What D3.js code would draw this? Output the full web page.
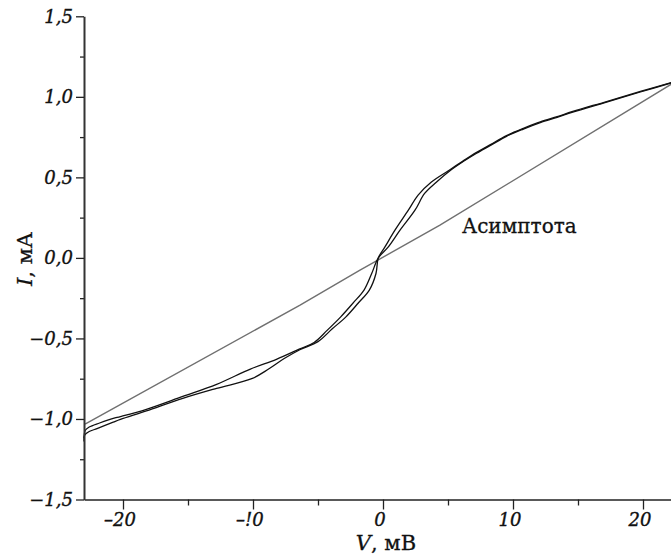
<!DOCTYPE html>
<html>
<head>
<meta charset="utf-8">
<script src="https://d3js.org/d3.v7.min.js"></script>
<style>
  body { margin: 0; background: #fff; }
  text { font-family: "DejaVu Serif", serif; fill: #111; }
</style>
</head>
<body>
<svg width="671" height="556"></svg>
<script>
// current-voltage curve, two sweep branches, V in mV, I in mA
var branchUp = [
  [-23.0, -1.12], [-22.9, -1.07], [-22.6, -1.05], [-21.8, -1.025], [-20.75, -0.996],
  [-20.2, -0.985], [-18.2, -0.94], [-15.4, -0.86], [-12.8, -0.785], [-10.2, -0.69],
  [-8.2, -0.63], [-6.4, -0.565], [-5.3, -0.525], [-4.3, -0.45], [-3.25, -0.366],
  [-2.3, -0.28], [-1.46, -0.2], [-0.87, -0.097], [-0.36, 0.0], [0.41, 0.068],
  [1.31, 0.172], [2.46, 0.296], [3.2, 0.4], [4.1, 0.47], [5.2, 0.544],
  [6.2, 0.6], [7.2, 0.65], [8.3, 0.7], [9.5, 0.755], [10.8, 0.8],
  [12.1, 0.84], [13.4, 0.873], [14.6, 0.905], [17.2, 0.967], [19.8, 1.03], [22.2, 1.087]
];
var branchDown = [
  [-23.0, -1.14], [-22.95, -1.1], [-22.6, -1.078], [-22.0, -1.06], [-20.75, -1.02],
  [-20.2, -1.003], [-18.2, -0.95], [-15.4, -0.872], [-12.8, -0.81], [-10.1, -0.75],
  [-8.8, -0.69], [-7.6, -0.625], [-6.4, -0.57], [-5.0, -0.52],
  [-3.9, -0.44], [-2.85, -0.366], [-1.9, -0.28], [-1.05, -0.2], [-0.54, -0.097],
  [-0.36, 0.0], [0.15, 0.068], [0.92, 0.172], [1.95, 0.296], [2.7, 0.39],
  [3.7, 0.47], [5.0, 0.54], [6.2, 0.604], [7.2, 0.655], [8.3, 0.705], [9.5, 0.759],
  [10.8, 0.804], [12.1, 0.844], [13.4, 0.877], [14.6, 0.909], [17.2, 0.971], [19.8, 1.034], [22.2, 1.089]
];
var asymptote = [[-22.92, -1.032], [-6.38, -0.293], [-1.77, -0.076], [4.38, 0.203], [22.2, 1.08]];

var xTicks = [-20, -10, 0, 10, 20];
var xTickLabels = ["\u201320", "\u2013!0", "0", "10", "20"];
var xMinor = [-15, -5, 5, 15];
var yTicks = [-1.5, -1.0, -0.5, 0.0, 0.5, 1.0, 1.5];
var yTickLabels = ["\u22121,5", "\u22121,0", "\u22120,5", "0,0", "0,5", "1,0", "1,5"];
var yMinor = [-1.25, -0.75, -0.25, 0.25, 0.75, 1.25];

var svg = d3.select("svg");
var x = d3.scaleLinear().domain([-23, 22.2]).range([84, 671.6]);
var y = d3.scaleLinear().domain([-1.5, 1.5]).range([499.5, 16.3]);

var line = d3.line().x(d => x(d[0])).y(d => y(d[1])).curve(d3.curveCatmullRom.alpha(0.5));

svg.append("path").datum(asymptote)
  .attr("d", d3.line().x(d => x(d[0])).y(d => y(d[1]))).attr("fill", "none")
  .attr("stroke", "#707070").attr("stroke-width", 1.4);

[branchUp, branchDown].forEach(function(b) {
  svg.append("path").datum(b)
    .attr("d", line).attr("fill", "none")
    .attr("stroke", "#111").attr("stroke-width", 1.3)
    .attr("stroke-linejoin", "round");
});

// minor ticks first, then major ticks with labels
svg.append("g").attr("transform", "translate(0," + y(-1.5) + ")")
  .call(d3.axisBottom(x).tickValues(xMinor).tickSize(6).tickFormat(""))
  .call(g => g.select(".domain").remove());
var gx = svg.append("g").attr("transform", "translate(0," + y(-1.5) + ")")
  .call(d3.axisBottom(x).tickValues(xTicks).tickSize(10).tickSizeOuter(0)
    .tickFormat((d, i) => xTickLabels[i]));
gx.select(".domain").attr("stroke", "#222").attr("stroke-width", 1.5);

svg.append("g").attr("transform", "translate(" + x(-23) + ",0)")
  .call(d3.axisLeft(y).tickValues(yMinor).tickSize(4).tickFormat(""))
  .call(g => g.select(".domain").remove());
var gy = svg.append("g").attr("transform", "translate(" + x(-23) + ",0)")
  .call(d3.axisLeft(y).tickValues(yTicks).tickSize(8).tickSizeOuter(0)
    .tickFormat((d, i) => yTickLabels[i]));
gy.select(".domain").attr("stroke", "#333").attr("stroke-width", 2);

svg.selectAll(".tick line").attr("stroke", "#222").attr("stroke-width", 1.3);
svg.selectAll(".tick text")
  .style("font-family", "'DejaVu Serif', serif")
  .style("font-style", "italic")
  .style("font-size", "18px")
  .attr("fill", "#111").attr("stroke", "#111").attr("stroke-width", 0.35);
gx.selectAll(".tick text").attr("y", 14).attr("dx", "-0.2em");
gy.selectAll(".tick text").attr("x", -11);

// axis titles
var xt = svg.append("text").attr("x", 386).attr("y", 550)
  .attr("text-anchor", "middle").style("font-size", "21px")
  .attr("stroke", "#111").attr("stroke-width", 0.3);
xt.append("tspan").style("font-style", "italic").text("V");
xt.append("tspan").text(", мВ");

var yt = svg.append("text").attr("transform", "translate(32,259) rotate(-90)")
  .attr("text-anchor", "middle").style("font-size", "21px")
  .attr("stroke", "#111").attr("stroke-width", 0.3);
yt.append("tspan").style("font-style", "italic").text("I");
yt.append("tspan").text(", мА");

svg.append("text").attr("x", 462).attr("y", 233)
  .style("font-size", "20px").attr("stroke", "#111").attr("stroke-width", 0.3)
  .text("Асимптота");
</script>
</body>
</html>
